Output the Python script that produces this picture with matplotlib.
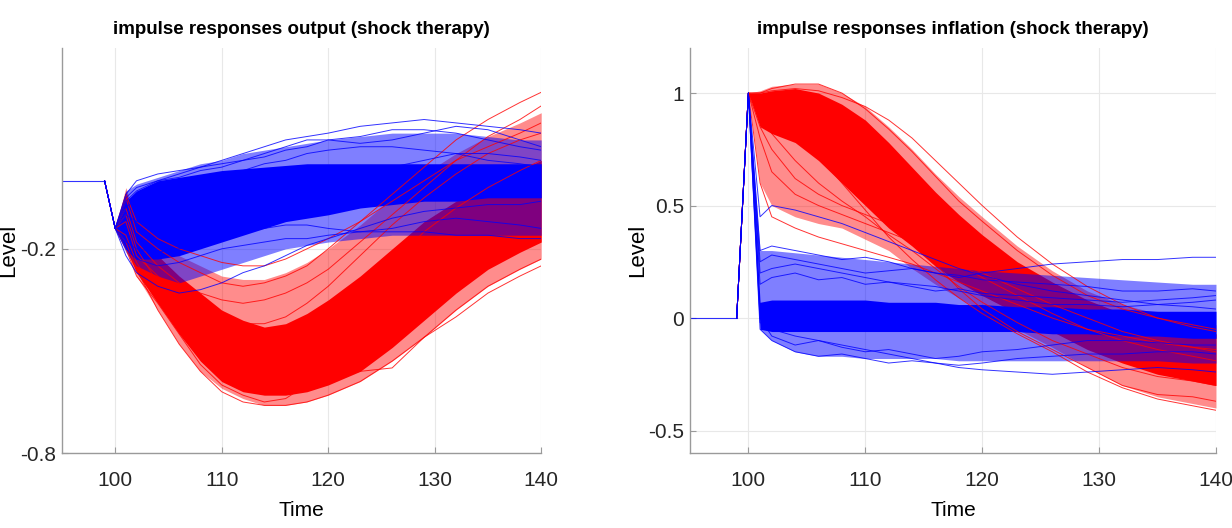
import numpy as np
import matplotlib.pyplot as plt

plt.rcParams['font.family'] = ['Liberation Sans', 'DejaVu Sans']
plt.rcParams['axes.unicode_minus'] = False

# ---- output panel (left) ----
out_t = [99, 100, 101, 102, 104, 106, 108, 110, 112, 114, 116, 118, 120, 123, 126, 129, 132, 135, 138, 140]

out_red_core_lo = [0, -0.14, -0.20, -0.27, -0.36, -0.45, -0.53, -0.59, -0.62, -0.63, -0.63, -0.62, -0.60, -0.56, -0.49, -0.41, -0.33, -0.26, -0.21, -0.18]
out_red_core_hi = [0, -0.14, -0.03, -0.15, -0.22, -0.28, -0.33, -0.38, -0.41, -0.43, -0.42, -0.39, -0.35, -0.28, -0.20, -0.12, -0.06, -0.01, 0.03, 0.06]
out_red_wide_lo = [0, -0.14, -0.20, -0.28, -0.38, -0.48, -0.56, -0.61, -0.64, -0.66, -0.66, -0.65, -0.63, -0.59, -0.53, -0.46, -0.38, -0.31, -0.26, -0.23]
out_red_wide_hi = [0, -0.14, -0.02, -0.12, -0.18, -0.22, -0.25, -0.28, -0.29, -0.29, -0.27, -0.24, -0.20, -0.13, -0.05, 0.02, 0.08, 0.13, 0.17, 0.20]
out_red_paths = [
    [0, -0.14, -0.05, -0.15, -0.20, -0.24, -0.27, -0.30, -0.31, -0.30, -0.28, -0.25, -0.20, -0.12, -0.04, 0.04, 0.12, 0.18, 0.23, 0.26],
    [0, -0.14, -0.08, -0.18, -0.25, -0.30, -0.33, -0.35, -0.36, -0.35, -0.33, -0.30, -0.26, -0.18, -0.10, -0.02, 0.06, 0.13, 0.18, 0.22],
    [0, -0.14, -0.18, -0.26, -0.38, -0.48, -0.56, -0.62, -0.65, -0.66, -0.66, -0.65, -0.63, -0.59, -0.53, -0.46, -0.38, -0.31, -0.26, -0.23],
    [0, -0.14, -0.20, -0.28, -0.36, -0.45, -0.54, -0.60, -0.63, -0.65, -0.64, -0.60, -0.58, -0.56, -0.55, -0.46, -0.40, -0.33, -0.28, -0.25],
    [0, -0.14, -0.10, -0.20, -0.30, -0.38, -0.44, -0.49, -0.52, -0.53, -0.51, -0.47, -0.42, -0.33, -0.24, -0.15, -0.08, -0.02, 0.03, 0.06],
    [0, -0.14, -0.12, -0.22, -0.28, -0.33, -0.37, -0.40, -0.42, -0.42, -0.40, -0.36, -0.31, -0.22, -0.13, -0.05, 0.02, 0.08, 0.12, 0.14],
    [0, -0.14, -0.16, -0.24, -0.34, -0.42, -0.50, -0.56, -0.59, -0.60, -0.60, -0.58, -0.55, -0.50, -0.44, -0.37, -0.30, -0.24, -0.20, -0.17],
    [0, -0.14, -0.04, -0.12, -0.17, -0.20, -0.22, -0.24, -0.25, -0.25, -0.23, -0.20, -0.17, -0.12, -0.06, 0.00, 0.06, 0.10, 0.14, 0.17],
]

out_blue_core_lo = [0, -0.14, -0.20, -0.23, -0.23, -0.22, -0.20, -0.18, -0.16, -0.14, -0.12, -0.11, -0.10, -0.08, -0.07, -0.06, -0.06, -0.05, -0.05, -0.05]
out_blue_core_hi = [0, -0.14, -0.06, -0.03, 0.00, 0.01, 0.02, 0.03, 0.035, 0.04, 0.045, 0.05, 0.05, 0.05, 0.05, 0.05, 0.05, 0.05, 0.05, 0.05]
out_blue_wide_lo = [0, -0.14, -0.21, -0.25, -0.28, -0.30, -0.28, -0.26, -0.24, -0.22, -0.20, -0.19, -0.18, -0.17, -0.16, -0.16, -0.16, -0.16, -0.16, -0.16]
out_blue_wide_hi = [0, -0.14, -0.03, -0.01, 0.01, 0.03, 0.05, 0.06, 0.08, 0.09, 0.10, 0.11, 0.12, 0.13, 0.14, 0.14, 0.14, 0.13, 0.12, 0.12]
out_blue_paths = [
    [0, -0.14, -0.05, -0.02, 0.00, 0.02, 0.04, 0.06, 0.08, 0.10, 0.12, 0.13, 0.14, 0.16, 0.17, 0.18, 0.17, 0.16, 0.15, 0.14],
    [0, -0.14, -0.06, -0.03, 0.00, 0.01, 0.03, 0.04, 0.06, 0.07, 0.09, 0.10, 0.12, 0.13, 0.15, 0.15, 0.14, 0.12, 0.10, 0.09],
    [0, -0.14, -0.22, -0.27, -0.31, -0.33, -0.32, -0.30, -0.27, -0.25, -0.22, -0.19, -0.17, -0.14, -0.11, -0.09, -0.08, -0.07, -0.07, -0.06],
    [0, -0.14, -0.20, -0.23, -0.25, -0.24, -0.22, -0.20, -0.19, -0.18, -0.17, -0.17, -0.16, -0.15, -0.15, -0.15, -0.16, -0.16, -0.17, -0.17],
    [0, -0.14, -0.04, 0.00, 0.02, 0.03, 0.04, 0.05, 0.06, 0.08, 0.10, 0.12, 0.12, 0.11, 0.12, 0.14, 0.16, 0.15, 0.12, 0.10],
    [0, -0.14, -0.10, -0.12, -0.13, -0.12, -0.10, -0.09, -0.08, -0.06, -0.04, -0.02, 0.00, 0.02, 0.04, 0.06, 0.08, 0.08, 0.07, 0.06],
    [0, -0.14, -0.18, -0.20, -0.21, -0.20, -0.18, -0.16, -0.15, -0.14, -0.13, -0.13, -0.14, -0.15, -0.14, -0.12, -0.11, -0.12, -0.13, -0.14],
    [0, -0.14, -0.08, -0.05, -0.04, -0.02, 0.00, 0.02, 0.03, 0.05, 0.06, 0.08, 0.09, 0.10, 0.10, 0.09, 0.08, 0.06, 0.05, 0.04],
]

# ---- inflation panel (right) ----
inf_t = [99, 100, 101, 102, 104, 106, 108, 110, 112, 114, 116, 118, 120, 123, 126, 129, 132, 135, 138, 140]

inf_red_core_lo = [0, 1, 0.85, 0.82, 0.78, 0.70, 0.60, 0.50, 0.40, 0.32, 0.23, 0.16, 0.10, 0.02, -0.06, -0.14, -0.20, -0.25, -0.28, -0.30]
inf_red_core_hi = [0, 1, 1.00, 1.01, 1.02, 1.00, 0.95, 0.88, 0.78, 0.67, 0.56, 0.46, 0.37, 0.25, 0.16, 0.08, 0.02, -0.02, -0.05, -0.07]
inf_red_wide_lo = [0, 1, 0.60, 0.50, 0.45, 0.42, 0.40, 0.35, 0.30, 0.22, 0.15, 0.09, 0.03, -0.05, -0.13, -0.22, -0.30, -0.35, -0.38, -0.40]
inf_red_wide_hi = [0, 1, 1.01, 1.03, 1.04, 1.04, 1.00, 0.94, 0.85, 0.75, 0.64, 0.54, 0.45, 0.32, 0.21, 0.12, 0.06, 0.02, -0.01, -0.03]
inf_red_paths = [
    [0, 1, 1.00, 1.02, 1.04, 1.04, 1.00, 0.93, 0.84, 0.74, 0.63, 0.52, 0.43, 0.30, 0.19, 0.10, 0.04, 0.00, -0.03, -0.05],
    [0, 1, 0.80, 0.65, 0.55, 0.50, 0.46, 0.42, 0.38, 0.34, 0.30, 0.25, 0.20, 0.13, 0.06, 0.00, -0.06, -0.10, -0.13, -0.15],
    [0, 1, 0.85, 0.75, 0.62, 0.55, 0.50, 0.46, 0.42, 0.36, 0.30, 0.24, 0.18, 0.10, 0.02, -0.05, -0.10, -0.14, -0.17, -0.19],
    [0, 1, 0.95, 0.90, 0.82, 0.72, 0.60, 0.48, 0.36, 0.26, 0.17, 0.09, 0.02, -0.07, -0.15, -0.24, -0.31, -0.36, -0.39, -0.41],
    [0, 1, 0.97, 0.95, 0.90, 0.82, 0.72, 0.60, 0.48, 0.36, 0.24, 0.13, 0.04, -0.06, -0.14, -0.22, -0.30, -0.34, -0.35, -0.37],
    [0, 1, 1.00, 1.01, 1.02, 1.01, 0.98, 0.94, 0.88, 0.80, 0.70, 0.60, 0.50, 0.36, 0.24, 0.14, 0.06, 0.00, -0.04, -0.06],
    [0, 1, 0.90, 0.82, 0.70, 0.60, 0.52, 0.45, 0.37, 0.30, 0.22, 0.14, 0.07, -0.02, -0.10, -0.16, -0.22, -0.26, -0.28, -0.30],
    [0, 1, 0.60, 0.45, 0.40, 0.36, 0.33, 0.30, 0.27, 0.24, 0.20, 0.16, 0.12, 0.06, 0.00, -0.05, -0.08, -0.11, -0.13, -0.14],
]

inf_blue_core_lo = [0, 1, -0.05, -0.06, -0.06, -0.06, -0.06, -0.06, -0.06, -0.06, -0.06, -0.06, -0.06, -0.06, -0.07, -0.07, -0.08, -0.08, -0.09, -0.09]
inf_blue_core_hi = [0, 1, 0.07, 0.08, 0.08, 0.08, 0.08, 0.08, 0.07, 0.07, 0.07, 0.06, 0.06, 0.05, 0.05, 0.04, 0.04, 0.03, 0.03, 0.03]
inf_blue_wide_lo = [0, 1, -0.05, -0.10, -0.15, -0.17, -0.17, -0.18, -0.18, -0.18, -0.18, -0.19, -0.19, -0.19, -0.19, -0.19, -0.19, -0.19, -0.20, -0.20]
inf_blue_wide_hi = [0, 1, 0.30, 0.30, 0.29, 0.28, 0.27, 0.26, 0.25, 0.24, 0.23, 0.22, 0.21, 0.20, 0.19, 0.18, 0.17, 0.16, 0.15, 0.15]
inf_blue_paths = [
    [0, 1, 0.45, 0.50, 0.48, 0.45, 0.42, 0.38, 0.34, 0.30, 0.26, 0.22, 0.19, 0.15, 0.12, 0.10, 0.08, 0.06, 0.05, 0.04],
    [0, 1, 0.25, 0.28, 0.26, 0.24, 0.22, 0.20, 0.21, 0.22, 0.20, 0.18, 0.20, 0.22, 0.24, 0.25, 0.26, 0.26, 0.27, 0.27],
    [0, 1, 0.30, 0.32, 0.30, 0.28, 0.26, 0.27, 0.25, 0.22, 0.20, 0.19, 0.17, 0.16, 0.15, 0.14, 0.12, 0.12, 0.13, 0.12],
    [0, 1, -0.05, -0.10, -0.15, -0.17, -0.16, -0.18, -0.20, -0.19, -0.20, -0.21, -0.20, -0.18, -0.17, -0.16, -0.16, -0.15, -0.15, -0.16],
    [0, 1, 0.00, -0.08, -0.12, -0.10, -0.13, -0.15, -0.14, -0.16, -0.18, -0.17, -0.15, -0.14, -0.12, -0.10, -0.10, -0.11, -0.12, -0.12],
    [0, 1, 0.15, 0.18, 0.20, 0.17, 0.18, 0.15, 0.16, 0.14, 0.12, 0.13, 0.11, 0.10, 0.09, 0.08, 0.07, 0.08, 0.09, 0.10],
    [0, 1, -0.02, -0.05, -0.08, -0.10, -0.12, -0.14, -0.16, -0.18, -0.20, -0.22, -0.23, -0.24, -0.25, -0.24, -0.23, -0.22, -0.23, -0.24],
    [0, 1, 0.20, 0.22, 0.24, 0.22, 0.20, 0.18, 0.16, 0.15, 0.14, 0.12, 0.10, 0.08, 0.06, 0.06, 0.05, 0.06, 0.07, 0.08],
]

pre_t = [95, 99]
pre_level = [0, 0]

xticks = [100, 110, 120, 130, 140]
out_yticks = [-0.8, -0.2]
out_ylabels = ['-0.8', '-0.2']
inf_yticks = [-0.5, 0, 0.5, 1]
inf_ylabels = ['-0.5', '0', '0.5', '1']


def draw_group(ax, t, core_lo, core_hi, wide_lo, wide_hi, paths, color, wide_alpha):
    ax.fill_between(t, wide_lo, wide_hi, color=color, alpha=wide_alpha, lw=0)
    ax.fill_between(t, core_lo, core_hi, color=color, alpha=1.0, lw=0)
    for p in paths:
        ax.plot(t, p, color=color, lw=0.7, alpha=0.8)


def style_axes(ax):
    for s in ['top', 'right']:
        ax.spines[s].set_visible(False)
    for s in ['left', 'bottom']:
        ax.spines[s].set_color('#9a9a9a')
        ax.spines[s].set_linewidth(1.0)
    ax.tick_params(direction='in', length=4, color='#9a9a9a', labelsize=15,
                   labelcolor='#262626')
    ax.tick_params(axis='x', pad=13)
    ax.tick_params(axis='y', pad=4)
    ax.grid(True, color='#e8e8e8', lw=0.8)
    ax.set_axisbelow(True)
    ax.set_xlim(95, 140)
    ax.set_xticks(xticks)


fig = plt.figure(figsize=(12.32, 5.28), dpi=100)
ax1 = fig.add_axes([0.0503, 0.142, 0.389, 0.767])
ax2 = fig.add_axes([0.560, 0.142, 0.427, 0.767])

# left
draw_group(ax1, out_t, out_red_core_lo, out_red_core_hi, out_red_wide_lo, out_red_wide_hi, out_red_paths, 'red', 0.45)
draw_group(ax1, out_t, out_blue_core_lo, out_blue_core_hi, out_blue_wide_lo, out_blue_wide_hi, out_blue_paths, 'blue', 0.5)
ax1.plot(pre_t, pre_level, color='blue', lw=0.8, alpha=0.8)
style_axes(ax1)
ax1.set_ylim(-0.8, 0.39)
ax1.set_yticks(out_yticks)
ax1.set_yticklabels(out_ylabels)
ax1.set_title('impulse responses output (shock therapy)', fontsize=13.5, fontweight='bold', pad=10)
ax1.set_xlabel('Time', fontsize=15, labelpad=8)
ax1.set_ylabel('Level', fontsize=16)
ax1.yaxis.set_label_coords(-0.09, 0.5)

# right
draw_group(ax2, inf_t, inf_red_core_lo, inf_red_core_hi, inf_red_wide_lo, inf_red_wide_hi, inf_red_paths, 'red', 0.45)
draw_group(ax2, inf_t, inf_blue_core_lo, inf_blue_core_hi, inf_blue_wide_lo, inf_blue_wide_hi, inf_blue_paths, 'blue', 0.5)
ax2.plot(pre_t, pre_level, color='blue', lw=0.8, alpha=0.8)
style_axes(ax2)
ax2.set_ylim(-0.6, 1.2)
ax2.set_yticks(inf_yticks)
ax2.set_yticklabels(inf_ylabels)
ax2.set_title('impulse responses inflation (shock therapy)', fontsize=13.5, fontweight='bold', pad=10)
ax2.set_xlabel('Time', fontsize=15, labelpad=8)
ax2.set_ylabel('Level', fontsize=16)
ax2.yaxis.set_label_coords(-0.08, 0.5)

fig.savefig('out.png', dpi=100)
